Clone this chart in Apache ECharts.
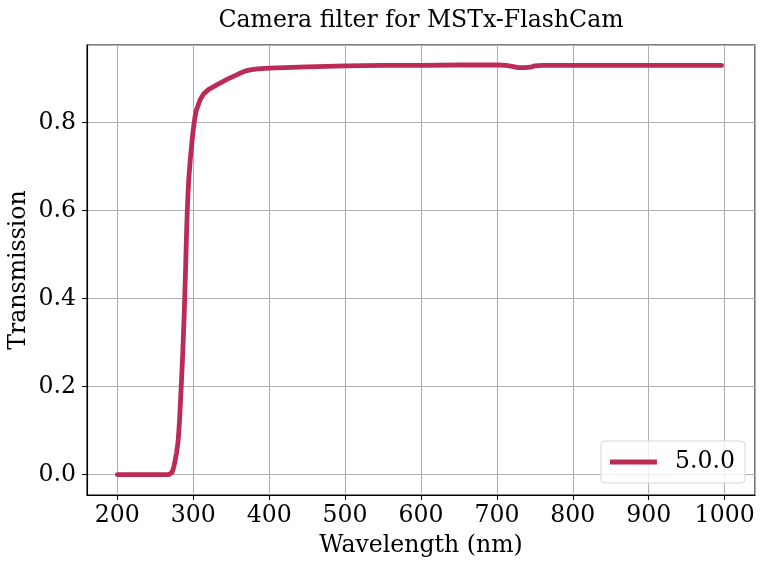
<!DOCTYPE html>
<html>
<head>
<meta charset="utf-8">
<script src="https://cdn.jsdelivr.net/npm/echarts@6/dist/echarts.min.js"></script>
<style>html,body{margin:0;padding:0;background:#fff}#c{width:766px;height:568px}</style>
</head>
<body>
<div id="c"></div>
<script>
const titleText = 'Camera filter for MSTx-FlashCam';
const xName = 'Wavelength (nm)';
const yName = 'Transmission';
const seriesName = '5.0.0';
const wavelength = [200,220,240,260,268,270,272,274,276,278,280,282,284,286,288,290,291,292,293,294,296,298,300,302,304,309,314,320,331,345,360,368,375,385,400,450,500,550,600,650,700,712,720,728,736,744,750,760,800,900,996];
const transmission = [0,0,0,0,0,0.001,0.005,0.015,0.03,0.05,0.075,0.125,0.195,0.27,0.36,0.475,0.54,0.595,0.637,0.67,0.715,0.752,0.785,0.81,0.828,0.852,0.866,0.875,0.886,0.899,0.911,0.917,0.920,0.922,0.924,0.927,0.929,0.930,0.930,0.931,0.931,0.930,0.928,0.925,0.925,0.926,0.929,0.930,0.930,0.930,0.930];

const FONT = 'DejaVu Serif';
const FS = 23.6;
const chart = echarts.init(document.getElementById('c'), null, {renderer: 'canvas'});
const points = wavelength.map((w, i) => [w, transmission[i]]);
chart.setOption({
  animation: false,
  backgroundColor: '#ffffff',
  textStyle: {fontFamily: FONT},
  graphic: [{
    type: 'text', x: 421, y: 21,
    style: {text: titleText, font: FS + 'px "DejaVu Serif"', fill: '#000', textAlign: 'center', textVerticalAlign: 'middle'}
  }],
  grid: {left: 87, right: 11, top: 45, bottom: 73, containLabel: false, outerBoundsMode: 'none',
    show: true, borderColor: '#000', borderWidth: 1.1, backgroundColor: 'transparent'},
  legend: {
    right: 21, bottom: 85,
    orient: 'vertical',
    icon: 'rect', itemWidth: 47, itemHeight: 5,
    padding: [9, 10, 9, 9],
    backgroundColor: 'rgba(255,255,255,0.8)',
    borderColor: '#d6d6d6', borderWidth: 1, borderRadius: 4,
    textStyle: {fontFamily: FONT, fontSize: FS, color: '#000', padding: [0, 0, 0, 13]},
    data: [seriesName]
  },
  xAxis: {
    type: 'value', min: 160, max: 1040, splitNumber: 9,
    name: xName, nameLocation: 'middle', nameGap: 39,
    nameTextStyle: {fontFamily: FONT, fontSize: FS, color: '#000'},
    axisLine: {show: true, onZero: false, lineStyle: {color: '#000', width: 1.1}},
    axisTick: {show: true, inside: false, length: 5, lineStyle: {color: '#000', width: 1.1}},
    axisLabel: {fontFamily: FONT, fontSize: FS, color: '#000', margin: 9, showMinLabel: false, showMaxLabel: false,
      formatter: v => String(Math.round(v))},
    splitLine: {show: true, lineStyle: {color: '#b0b0b0', width: 1.1}}
  },
  yAxis: {
    type: 'value', min: -0.0465, max: 0.9765, splitNumber: 5,
    name: yName, nameLocation: 'middle', nameGap: 56, nameRotate: 90, nameMoveOverlap: false,
    nameTextStyle: {fontFamily: FONT, fontSize: FS, color: '#000'},
    axisLine: {show: true, onZero: false, lineStyle: {color: '#000', width: 1.1}},
    axisTick: {show: true, inside: false, length: 5, lineStyle: {color: '#000', width: 1.1}},
    axisLabel: {fontFamily: FONT, fontSize: FS, color: '#000', margin: 11, showMinLabel: false, showMaxLabel: false,
      formatter: v => v.toFixed(1)},
    splitLine: {show: true, lineStyle: {color: '#b0b0b0', width: 1.1}}
  },
  series: [{
    name: seriesName, type: 'line', data: points,
    showSymbol: false, symbol: 'none', smooth: false,
    lineStyle: {color: '#bc2b55', width: 4.8, cap: 'round', join: 'round'},
    itemStyle: {color: '#bc2b55'}
  }]
});
</script>
</body>
</html>
